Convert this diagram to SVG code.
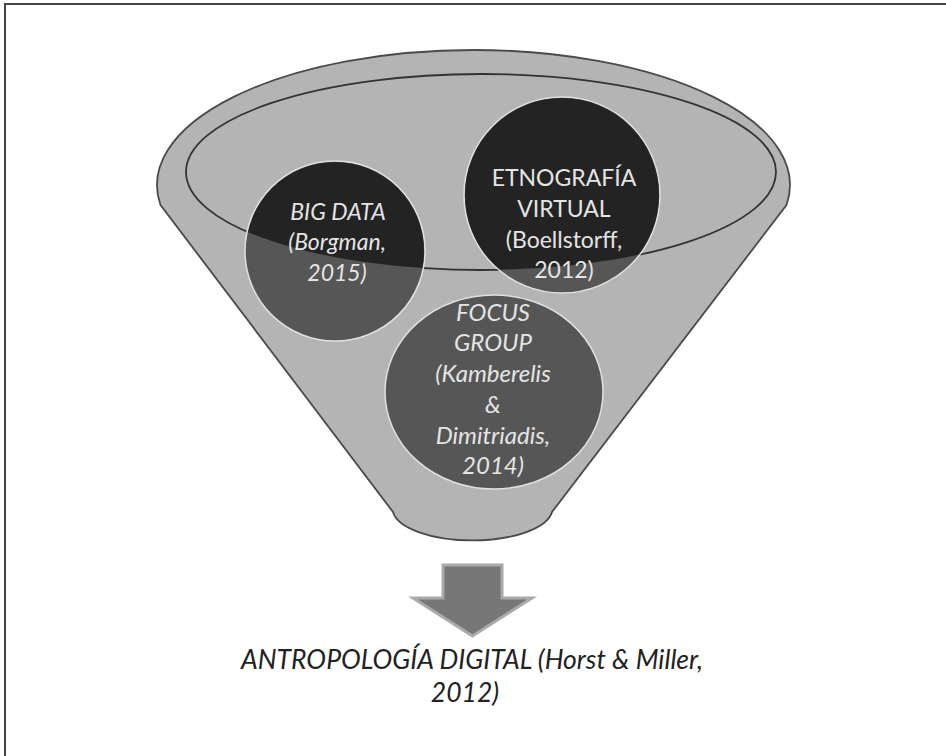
<svg xmlns="http://www.w3.org/2000/svg" width="946" height="756" viewBox="0 0 946 756">
<style>
.t{font-family:Lato,"Open Sans","Liberation Sans",sans-serif;font-size:23px;text-anchor:middle;fill:#e4e4e4}
.i{font-style:italic}
.f{font-size:24px}
.b{font-family:Lato,"Open Sans","Liberation Sans",sans-serif;font-size:26.5px;text-anchor:middle;fill:#222;font-style:italic}
.c{fill:#565656;stroke:#e0e0e0;stroke-width:1.5}
.d{fill:#232323}
</style>
<defs>
<clipPath id="inner"><ellipse cx="481" cy="172" rx="295" ry="98"/></clipPath>
</defs>
<rect x="0" y="0" width="946" height="756" fill="#fff"/>
<path d="M5,757 L5,4 L946,4" fill="none" stroke="#444" stroke-width="2"/>
<g id="funnel">
<path d="M160.5,205 A316.5,135 0 1 1 786.5,205 L552,512 A80,32 0 0 1 393,512 Z" fill="#b4b4b4" stroke="#4a4a4a" stroke-width="1.8"/>
<ellipse cx="481" cy="172" rx="295" ry="98" fill="none" stroke="#333" stroke-width="1.8"/>
</g>
<g id="bigdata">
<circle class="c" cx="335" cy="251" r="90"/>
<circle class="d" cx="335" cy="251" r="89" clip-path="url(#inner)"/>
<text class="t i" x="338" y="220">BIG DATA</text>
<text class="t i" x="337" y="250">(Borgman,</text>
<text class="t i" x="337" y="281">2015)</text>
</g>
<g id="etnografia">
<circle class="c" cx="562" cy="195" r="98"/>
<circle class="d" cx="562" cy="195" r="97" clip-path="url(#inner)"/>
<text class="t" x="564" y="186">ETNOGRAFÍA</text>
<text class="t" x="564" y="217">VIRTUAL</text>
<text class="t" x="564" y="248">(Boellstorff,</text>
<text class="t" x="564" y="278">2012)</text>
</g>
<g id="focus">
<ellipse class="c" cx="494" cy="392" rx="109" ry="97"/>
<text class="t i f" x="493" y="321">FOCUS</text>
<text class="t i f" x="493" y="351">GROUP</text>
<text class="t i f" x="493" y="382">(Kamberelis</text>
<text class="t i f" x="493" y="413">&amp;</text>
<text class="t i f" x="493" y="444">Dimitriadis,</text>
<text class="t i f" x="493" y="474">2014)</text>
</g>
<g id="connectors">
<path d="M443,565 L502,565 L502,598 L532,598 L472.5,636 L413,598 L443,598 Z" fill="#777" stroke="#aaa" stroke-width="3" stroke-linejoin="miter"/>
</g>
<g id="result">
<text class="b" x="472" y="669">ANTROPOLOGÍA DIGITAL (Horst &amp; Miller,</text>
<text class="b" x="465" y="702">2012)</text>
</g>
</svg>
